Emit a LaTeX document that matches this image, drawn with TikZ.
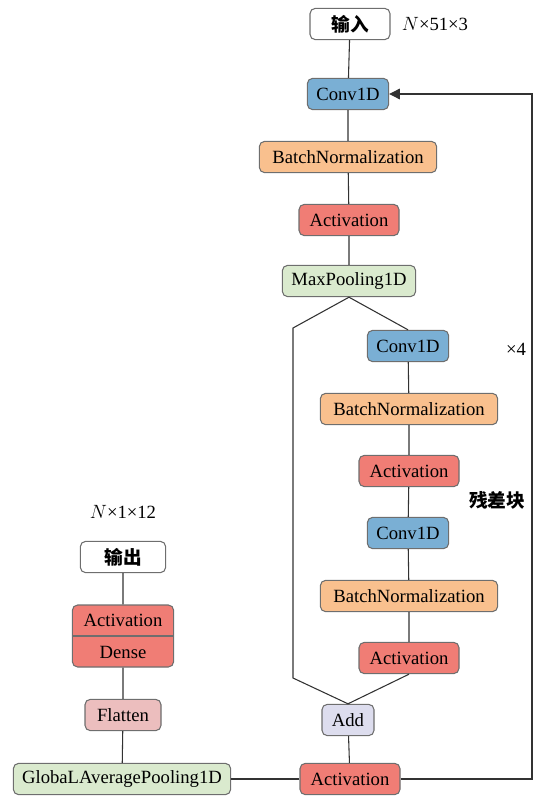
\documentclass[tikz,border=0pt]{standalone}
\usepackage{fontspec}
\setmainfont{Liberation Serif}
\newfontfamily\cjk{Noto Sans CJK SC}
\usepackage{tikz}
\usetikzlibrary{arrows.meta, positioning}
\definecolor{convblue}{RGB}{122,175,212}
\definecolor{bnorange}{RGB}{249,192,142}
\definecolor{actred}{RGB}{240,125,117}
\definecolor{poolgreen}{RGB}{218,234,206}
\definecolor{addlila}{RGB}{221,221,238}
\definecolor{flatrose}{RGB}{236,190,190}
\definecolor{rahmen}{RGB}{110,110,110}
\definecolor{linie}{RGB}{50,50,50}

\begin{document}
\begin{tikzpicture}[
    x=0.75pt, y=-0.75pt,
    box/.style={
        rectangle, draw=rahmen, rounded corners=4pt,
        minimum height=23.5pt, inner sep=2pt,
        font=\fontsize{14}{16}\selectfont, line width=0.8pt
    },
    io/.style={box, fill=white, font=\cjk\bfseries\fontsize{14}{16}\selectfont},
    conv/.style={box, fill=convblue, minimum width=61pt},
    bn/.style={box, fill=bnorange, minimum width=133pt},
    act/.style={box, fill=actred, minimum width=75pt},
    pool/.style={box, fill=poolgreen},
    line/.style={draw=linie, line width=0.8pt},
    arrow/.style={
        line, -{Triangle[length=8pt, width=8pt]}
    },
    dim/.style={font=\fontsize{14}{16}\selectfont}
]
\useasboundingbox (0,0) rectangle (545,796);

% Hauptpfad
\node[io, minimum width=60pt] (in) at (350,24) {输入};
\node[dim] at (435,24) {$N$×51×3};
\node[conv] (conv1) at (348,94) {Conv1D};
\node[bn] (bn1) at (348,157) {BatchNormalization};
\node[act] (act1) at (349,220) {Activation};
\node[pool, minimum width=100pt] (mp) at (349,281) {MaxPooling1D};

% Residualblock
\node[conv] (rconv1) at (408,346) {Conv1D};
\node[bn] (rbn1) at (409,409) {BatchNormalization};
\node[act] (ract1) at (409,471) {Activation};
\node[conv] (rconv2) at (408,533) {Conv1D};
\node[bn] (rbn2) at (409,596) {BatchNormalization};
\node[act] (ract2) at (409,658) {Activation};
\node[font=\cjk\bfseries\fontsize{14}{16}\selectfont] (rblock) at (497,500) {残差块};
\node[dim] (times) at (516,349) {×4};

\node[box, fill=addlila, minimum width=39pt] (add) at (348,720) {Add};
\node[act] (act2) at (350,779) {Activation};

% Ausgabe
\node[pool, minimum width=163pt] (gap) at (122,779) {GlobaLAveragePooling1D};
\node[box, fill=flatrose, minimum width=57pt] (flat) at (123,715) {Flatten};
\node[box, fill=actred, minimum width=76pt, minimum height=46.5pt, align=center,
      font=\fontsize{14}{24}\selectfont] (dense) at (123,636) {Activation\\Dense};
\node[io, minimum width=64pt] (out) at (123,557) {输出};
\node[dim] at (123,512) {$N$×1×12};

\coordinate (skipA) at (293,328);
\coordinate (skipB) at (293,678);
\coordinate (loopA) at (532,779);

\draw[line, draw=rahmen] (dense.west) -- (dense.east);
\draw[line] (in) -- (conv1) -- (bn1) -- (act1) -- (mp);
\draw[line] (mp.south) -- (rconv1.north);
\draw[line] (rconv1) -- (rbn1) -- (ract1) -- (rconv2) -- (rbn2) -- (ract2);
\draw[line] (mp.south) -- (skipA) -- (skipB) -- (add.north);
\draw[line] (ract2.south) -- (add.north);
\draw[line] (add) -- (act2);
\draw[arrow] (act2.east) -- (loopA) |- (conv1.east);
\draw[line] (act2.west) -- (gap.east);
\draw[line] (gap) -- (flat) -- (dense) -- (out);

\end{tikzpicture}
\end{document}
